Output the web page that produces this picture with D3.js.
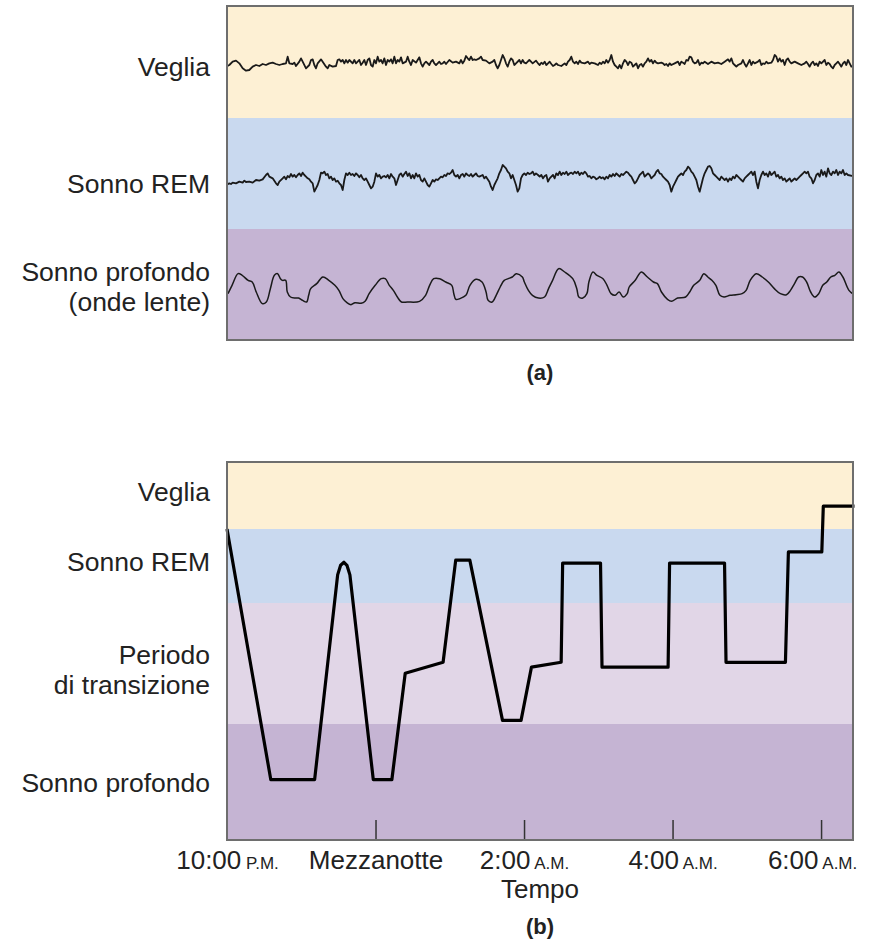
<!DOCTYPE html>
<html>
<head>
<meta charset="utf-8">
<script src="https://cdn.jsdelivr.net/npm/d3@7"></script>
<style>
  body { margin: 0; background: #fff; }
  text { font-family: "Liberation Sans", Arial, sans-serif; fill: #222; }
</style>
</head>
<body>
<svg id="chart" width="872" height="944"></svg>
<script>
// ---- data ----
// (a) EEG traces: [time unit, deflection]  (EEG convention: larger value = lower on screen)
const wakeTrace = [[0,50],[10,45],[20,35],[30,32],[40,40],[50,55],[60,62],[70,60],[80,50],[90,45],[100,48],[110,42],[120,45],[130,40],[140,38],[150,42],[160,45],[170,42],[180,40],[185,20],[190,40],[200,42],[205,38],[210,48],[220,35],[225,25],[230,35],[240,55],[250,45],[255,30],[260,28],[265,45],[270,55],[275,40],[285,28],[290,35],[300,50],[305,55],[310,45],[320,50],[330,48],[335,30],[340,28],[345,35],[350,30],[355,40],[360,30],[365,38],[370,30],[380,40],[385,30],[390,40],[395,35],[400,30],[405,45],[410,38],[415,30],[420,45],[425,30],[430,25],[435,45],[440,50],[445,30],[450,40],[455,20],[460,35],[465,30],[470,40],[475,25],[480,45],[485,30],[490,35],[495,28],[500,40],[505,20],[510,40],[515,30],[520,35],[525,22],[530,40],[540,35],[545,20],[550,35],[555,45],[560,30],[570,38],[580,22],[585,40],[590,50],[595,40],[600,35],[610,45],[615,35],[620,30],[625,40],[630,45],[635,40],[640,35],[645,42],[650,40],[655,35],[660,42],[670,30],[680,38],[690,35],[700,40],[705,30],[710,40],[715,32],[720,18],[725,25],[730,30],[735,20],[740,30],[745,28],[750,30],[760,25],[765,20],[770,30],[780,32],[790,40],[800,35],[805,30],[810,45],[815,55],[820,45],[825,30],[830,15],[835,25],[840,40],[845,50],[850,35],[855,25],[860,30],[865,45],[870,40],[880,30],[885,40],[890,30],[895,38],[900,40],[905,35],[910,30],[915,35],[920,40],[930,32],
  [936,40],[941,45],[946,38],[951,42],[956,35],[961,45],[966,40],[971,35],[976,42],[981,48],[986,45],[991,40],[996,45],[1006,48],[1016,40],[1021,45],[1026,35],[1031,30],[1036,20],[1041,35],[1046,40],[1051,35],[1056,42],[1061,32],[1066,38],[1076,40],[1086,35],[1091,42],[1096,38],[1106,40],[1116,45],[1121,38],[1126,42],[1131,35],[1136,40],[1141,30],[1146,38],[1151,30],[1156,15],[1161,35],[1166,45],[1171,50],[1176,55],[1181,45],[1186,55],[1191,40],[1196,30],[1201,35],[1206,45],[1211,35],[1216,38],[1221,50],[1226,45],[1231,40],[1236,55],[1241,45],[1246,42],[1251,50],[1256,40],[1261,35],[1266,25],[1271,35],[1276,30],[1281,40],[1286,32],[1291,38],[1296,40],[1306,38],[1311,40],[1316,45],[1321,42],[1326,48],[1331,40],[1336,45],[1346,40],[1356,35],[1361,45],[1366,35],[1371,38],[1376,42],[1381,30],[1386,32],[1391,20],[1396,22],[1401,35],[1406,40],[1411,38],[1416,30],[1421,45],[1426,38],[1431,40],[1436,35],[1446,42],[1456,35],[1466,40],[1476,38],[1486,42],[1496,35],[1506,28],[1511,35],[1516,25],[1521,40],[1526,45],[1531,50],[1536,45],[1546,40],[1551,30],[1556,42],[1561,50],[1566,40],[1571,30],[1576,45],[1581,35],[1586,40],[1596,35],[1601,30],[1606,45],[1611,40],[1616,42],[1621,35],[1626,40],[1636,38],[1641,30],[1646,15],[1651,20],[1656,35],[1661,25],[1666,35],[1671,30],[1676,45],[1681,30],[1686,25],[1691,35],[1696,40],[1706,35],[1716,40],[1726,45],[1736,40],[1741,35],[1746,42],[1751,50],[1756,40],[1761,35],[1766,45],[1771,40],[1776,48],[1781,35],[1786,40],[1796,30],[1801,45],[1806,38],[1811,42],[1816,50],[1821,55],[1826,45],[1831,40],[1836,35],[1841,42],[1846,50],[1851,40],[1856,35],[1861,45],[1866,30],[1871,40],[1876,50],[1887,45]];

const remTrace = [[0,75],[10,70],[15,72],[20,68],[30,70],[40,65],[50,68],[55,62],[60,66],[70,65],[80,68],[90,60],[100,62],[110,58],[120,45],[125,40],[130,50],[140,55],[150,70],[155,75],[160,65],[170,55],[175,50],[180,58],[185,48],[190,52],[195,42],[200,50],[205,45],[210,52],[215,45],[220,40],[225,48],[230,38],[235,45],[240,50],[245,55],[250,58],[255,65],[260,70],[265,95],[270,85],[275,75],[280,60],[285,38],[290,40],[295,35],[300,45],[305,42],[310,55],[315,50],[320,60],[325,55],[330,65],[335,62],[340,70],[345,75],[350,90],[355,60],[360,40],[365,45],[370,38],[375,45],[380,42],[385,48],[390,40],[395,45],[400,52],[405,45],[410,55],[415,60],[420,55],[425,65],[430,75],[435,85],[440,80],[445,65],[450,40],[455,50],[460,45],[465,55],[470,50],[475,48],[480,52],[485,45],[490,55],[495,42],[500,50],[505,55],[510,75],[515,60],[520,45],[525,40],[530,50],[535,42],[540,35],[545,48],[550,40],[555,55],[560,45],[565,55],[570,40],[575,50],[580,45],[585,60],[590,65],[595,55],[600,65],[605,75],[610,80],[615,70],[620,60],[625,65],[630,58],[635,60],[640,55],[645,50],[650,52],[655,45],[660,48],[665,40],[670,42],[675,38],[680,30],[685,45],[690,50],[695,45],[700,55],[705,45],[710,42],[715,50],[720,40],[725,45],[730,48],[735,42],[740,50],[745,45],[750,40],[755,48],[760,50],[770,45],[775,55],[780,50],[790,65],[795,80],[800,90],[805,75],[810,65],[815,55],[820,40],[825,30],[830,15],[835,20],[840,25],[845,35],[850,40],[855,55],[860,45],[865,60],[870,75],[875,95],[880,85],[885,55],[890,45],[895,40],[900,45],[905,38],[910,42],[915,40],[920,35],[925,45],[930,40],
  [936,45],[941,50],[946,45],[951,55],[956,48],[961,45],[966,65],[971,55],[976,50],[981,45],[986,55],[991,40],[996,45],[1001,35],[1006,45],[1011,38],[1016,42],[1021,35],[1026,45],[1031,40],[1036,38],[1041,42],[1046,35],[1051,40],[1056,35],[1061,45],[1066,38],[1071,42],[1076,35],[1081,40],[1086,50],[1091,48],[1096,55],[1101,50],[1106,52],[1111,58],[1116,55],[1121,50],[1126,55],[1131,52],[1136,58],[1141,50],[1146,55],[1151,45],[1156,50],[1161,42],[1166,48],[1171,40],[1176,45],[1181,50],[1186,42],[1191,45],[1196,40],[1201,35],[1206,38],[1211,45],[1216,50],[1221,60],[1226,70],[1231,65],[1236,55],[1241,45],[1246,40],[1251,35],[1256,50],[1261,45],[1266,40],[1271,45],[1276,55],[1281,50],[1286,45],[1291,35],[1296,30],[1301,40],[1306,42],[1311,50],[1316,55],[1321,60],[1326,65],[1331,75],[1336,95],[1341,80],[1346,70],[1351,60],[1356,50],[1361,45],[1366,40],[1371,45],[1376,35],[1381,30],[1386,20],[1391,25],[1396,35],[1401,40],[1406,50],[1411,60],[1416,80],[1421,95],[1426,75],[1431,55],[1436,40],[1441,30],[1446,20],[1451,18],[1456,25],[1461,40],[1466,45],[1471,50],[1476,55],[1481,60],[1486,50],[1491,55],[1496,60],[1501,55],[1506,65],[1511,55],[1516,60],[1521,50],[1526,55],[1531,45],[1536,50],[1541,55],[1546,60],[1551,65],[1556,55],[1561,50],[1566,45],[1571,40],[1576,35],[1581,45],[1586,35],[1591,65],[1596,85],[1601,60],[1606,45],[1611,35],[1616,45],[1621,40],[1626,50],[1631,35],[1636,45],[1641,40],[1646,35],[1651,50],[1656,45],[1661,55],[1666,50],[1671,60],[1676,55],[1681,65],[1686,60],[1691,55],[1696,65],[1701,60],[1706,55],[1711,60],[1716,55],[1721,50],[1726,45],[1731,40],[1736,35],[1741,40],[1746,35],[1751,50],[1756,55],[1761,70],[1766,60],[1771,45],[1776,40],[1781,50],[1786,30],[1791,45],[1796,35],[1801,50],[1806,25],[1811,40],[1816,45],[1821,35],[1826,40],[1831,30],[1836,45],[1841,35],[1846,40],[1851,30],[1856,45],[1861,40],[1866,45],[1887,50]];

const deepTrace = [[5,95],[15,70],[30,35],[40,40],[55,55],[65,60],[75,90],[90,125],[100,120],[110,80],[120,40],[128,35],[135,50],[140,55],[148,55],[152,90],[160,105],[172,108],[180,108],[190,115],[200,120],[205,100],[210,80],[225,65],[240,45],[255,55],[270,70],[280,85],[290,110],[300,122],[310,128],[320,122],[335,124],[345,118],[355,95],[370,70],[385,50],[395,50],[405,70],[415,85],[425,105],[435,120],[450,120],[480,118],[495,100],[505,70],[515,50],[530,50],[545,60],[560,70],[565,95],[570,112],[580,110],[595,100],[605,70],[620,52],[635,60],[645,90],[650,115],[660,120],[670,100],[680,75],[690,55],[700,50],[710,45],[720,35],[735,45],[740,60],[750,85],[760,100],[775,108],[790,105],[800,80],[810,55],[825,20],[840,30],[860,50],[870,80],[875,105],[885,108],[895,95],[900,60],[910,30],[920,40],[935,50],[945,70],[955,95],[965,100],[975,90],[985,105],[995,95],[1000,75],[1015,55],[1030,30],[1045,45],[1060,60],[1070,65],[1080,90],[1095,112],[1105,118],[1120,108],[1140,105],[1150,90],[1160,70],[1175,55],[1185,35],[1195,45],[1205,55],[1215,70],[1225,100],[1235,105],[1250,100],[1265,98],[1280,95],[1290,85],[1300,55],[1315,35],[1330,45],[1345,60],[1360,80],[1375,95],[1390,98],[1400,85],[1410,65],[1420,45],[1430,45],[1440,60],[1450,90],[1460,105],[1470,95],[1480,70],[1490,60],[1500,45],[1510,40],[1520,30],[1530,45],[1545,85],[1560,100]];

// (b) hypnogram: hours after 10 P.M., stage depth (0-1 veglia, 1-2 REM, 2-3 transizione, 3-4 profondo)
const hypnoHours = [0, 0.59, 1.18, 1.49, 1.53, 1.575, 1.615, 1.655, 1.97, 2.22, 2.40, 2.91, 3.08, 3.27, 3.71, 3.96, 4.10, 4.50, 4.52, 5.03, 5.05, 5.94, 5.96, 6.70, 6.72, 7.52, 7.56, 8.01, 8.03, 8.45];
const hypnoStage = [1.0, 3.48, 3.48, 1.62, 1.49, 1.45, 1.49, 1.62, 3.48, 3.48, 2.58, 2.49, 1.42, 1.42, 2.97, 2.97, 2.53, 2.49, 1.46, 1.46, 2.53, 2.53, 1.46, 1.46, 2.49, 2.49, 1.31, 1.31, 0.66, 0.66];

const eegLabels = [["Veglia"], ["Sonno REM"], ["Sonno profondo", "(onde lente)"]];
const stageLabels = [["Veglia"], ["Sonno REM"], ["Periodo", "di transizione"], ["Sonno profondo"]];
const tickHours = [0, 2, 4, 6, 8];
const tickMain = ["10:00", "Mezzanotte", "2:00", "4:00", "6:00"];
const tickSuffix = ["P.M.", "", "A.M.", "A.M.", "A.M."];

const bandColors = ["#fdf0d4", "#c9d9ef", "#e1d6e7", "#c5b4d3"];

const svg = d3.select("#chart");
const L = 227, R = 853;
const labelSize = "26.5px";

// ---------- panel (a) ----------
const aTop = 6, aBands = [6, 118, 229, 340];
const aColors = [bandColors[0], bandColors[1], bandColors[3]];

svg.append("clipPath").attr("id", "clipA")
  .append("rect").attr("x", L).attr("y", aTop).attr("width", R - L).attr("height", aBands[3] - aTop);

svg.append("g").selectAll("rect")
  .data(aColors)
  .join("rect")
  .attr("x", L)
  .attr("y", (d, i) => aBands[i])
  .attr("width", R - L)
  .attr("height", (d, i) => aBands[i + 1] - aBands[i])
  .attr("fill", d => d);

const xEeg = d3.scaleLinear().domain([0, 1887]).range([226, 855]);
const xDeep = d3.scaleLinear().domain([0, 1560]).range([226, 855]);
const yWake = d3.scaleLinear().domain([0, 108]).range([50, 86]);
const yRem = d3.scaleLinear().domain([0, 120]).range([160, 200]);
const yDeep = d3.scaleLinear().domain([0, 150]).range([262, 312]);

const traces = [
  { data: wakeTrace, x: xEeg, y: yWake, curve: d3.curveLinear, w: 1.8 },
  { data: remTrace, x: xEeg, y: yRem, curve: d3.curveLinear, w: 1.8 },
  { data: deepTrace, x: xDeep, y: yDeep, curve: d3.curveCatmullRom, w: 1.5 }
];

const gTr = svg.append("g").attr("clip-path", "url(#clipA)");
traces.forEach(t => {
  const line = d3.line().x(d => t.x(d[0])).y(d => t.y(d[1])).curve(t.curve);
  gTr.append("path")
    .attr("d", line(t.data))
    .attr("fill", "none")
    .attr("stroke", "#1a1a1a")
    .attr("stroke-width", t.w)
    .attr("stroke-linejoin", "round");
});

svg.append("rect")
  .attr("x", L).attr("y", aTop).attr("width", R - L).attr("height", aBands[3] - aTop)
  .attr("fill", "none").attr("stroke", "#6e6e6e").attr("stroke-width", 2);

const aLabelY = [67, 184, 272];
eegLabels.forEach((lines, i) => {
  const t = svg.append("text")
    .attr("text-anchor", "end")
    .attr("font-size", labelSize)
    .attr("y", aLabelY[i] + 9);
  lines.forEach((s, j) => {
    t.append("tspan").attr("x", 210).attr("dy", j === 0 ? 0 : 30).text(s);
  });
});

svg.append("text")
  .attr("x", 540).attr("y", 380)
  .attr("text-anchor", "middle")
  .attr("font-size", "22px").attr("font-weight", "bold")
  .text("(a)");

// ---------- panel (b) ----------
const bTop = 462, bBottom = 840;
const yStage = d3.scaleLinear().domain([0, 1, 2, 3, 4]).range([462, 529, 603, 724, 840]);
const xTime = d3.scaleLinear().domain([0, 8.43]).range([L, R]);

svg.append("g").selectAll("rect")
  .data(bandColors)
  .join("rect")
  .attr("x", L)
  .attr("y", (d, i) => yStage(i))
  .attr("width", R - L)
  .attr("height", (d, i) => yStage(i + 1) - yStage(i))
  .attr("fill", d => d);

const hypno = d3.line()
  .x((d, i) => xTime(hypnoHours[i]))
  .y(d => yStage(d));

svg.append("path")
  .attr("d", hypno(hypnoStage))
  .attr("fill", "none")
  .attr("stroke", "#000")
  .attr("stroke-width", 3.2)
  .attr("stroke-linejoin", "round");

// x axis with ticks drawn inward
const xAxis = d3.axisBottom(xTime)
  .tickValues(tickHours)
  .tickSize(-20)
  .tickFormat("");

const gAx = svg.append("g")
  .attr("transform", `translate(0,${bBottom})`)
  .call(xAxis);
gAx.select(".domain").remove();
gAx.selectAll(".tick line")
  .attr("stroke", "#333")
  .attr("stroke-width", 1.5)
  .attr("opacity", d => d === 0 ? 0 : 1);

gAx.selectAll(".tick text").remove();
gAx.selectAll(".tick").each(function (d, i) {
  const t = d3.select(this).append("text")
    .attr("y", 29)
    .attr("x", i === tickHours.length - 1 ? -9 : 0)
    .attr("text-anchor", "middle")
    .attr("font-size", "26px")
    .attr("fill", "#222");
  t.append("tspan").text(tickMain[i]);
  if (tickSuffix[i]) {
    t.append("tspan").attr("font-size", "17px").text(" " + tickSuffix[i]);
  }
});

svg.append("rect")
  .attr("x", L).attr("y", bTop).attr("width", R - L).attr("height", bBottom - bTop)
  .attr("fill", "none").attr("stroke", "#6e6e6e").attr("stroke-width", 2);

const bLabelY = [492, 562, 655, 783];
stageLabels.forEach((lines, i) => {
  const t = svg.append("text")
    .attr("text-anchor", "end")
    .attr("font-size", labelSize)
    .attr("y", bLabelY[i] + 9);
  lines.forEach((s, j) => {
    t.append("tspan").attr("x", 210).attr("dy", j === 0 ? 0 : 30).text(s);
  });
});

svg.append("text")
  .attr("x", 540).attr("y", 898)
  .attr("text-anchor", "middle")
  .attr("font-size", "26px")
  .text("Tempo");

svg.append("text")
  .attr("x", 540).attr("y", 934)
  .attr("text-anchor", "middle")
  .attr("font-size", "22px").attr("font-weight", "bold")
  .text("(b)");
</script>
</body>
</html>
